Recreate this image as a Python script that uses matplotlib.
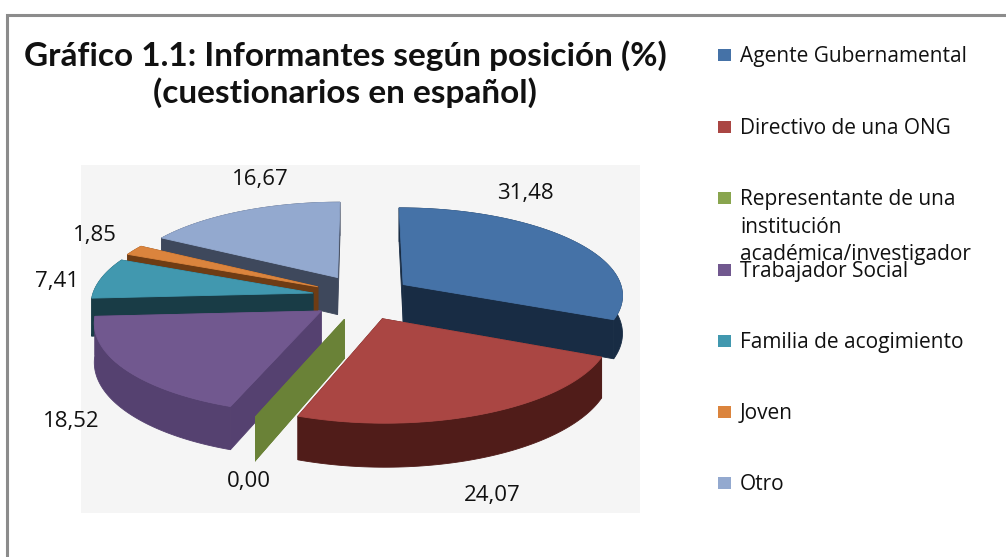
import numpy as np
import matplotlib
matplotlib.use("Agg")
import matplotlib.pyplot as plt
from matplotlib.patches import Polygon, Rectangle

categories = [
    "Agente Gubernamental",
    "Directivo de una ONG",
    "Representante de una\ninstitución\nacadémica/investigador",
    "Trabajador Social",
    "Familia de acogimiento",
    "Joven",
    "Otro",
]
values = [31.48, 24.07, 0.00, 18.52, 7.41, 1.85, 16.67]
value_labels = ["31,48", "24,07", "0,00", "18,52", "7,41", "1,85", "16,67"]

top_colors = ["#4572a7", "#aa4643", "#89a54e", "#71588f", "#4198af", "#db843d", "#93a9cf"]
side_colors = ["#182c44", "#501c19", "#6a8237", "#554170", "#193c46", "#6e3c14", "#3e485c"]

# pie geometry, in picture pixels
CX, CY = 362, 297
RADIUS = 221
EXPLODE_U, EXPLODE_V = 50, 58
TILT = 0.397
DEPTH = 2000
HEIGHT = 38


def project(u, v, h=0.0):
    # simple perspective, v points at the viewer
    s = DEPTH / (DEPTH - v)
    return CX + s * u, CY + s * (TILT * v + h)


def draw_slice(ax, start, end, top, side):
    mid = (start + end) / 2
    off_u = EXPLODE_U * np.sin(mid)
    off_v = -EXPLODE_V * np.cos(mid)
    angles = np.linspace(start, end, 80)
    us = off_u + RADIUS * np.sin(angles)
    vs = off_v - RADIUS * np.cos(angles)

    rim_top = [project(u, v) for u, v in zip(us, vs)]
    rim_low = [project(u, v, HEIGHT) for u, v in zip(us, vs)]
    apex_top = project(off_u, off_v)
    apex_low = project(off_u, off_v, HEIGHT)

    kw = dict(closed=True, linewidth=0.6)
    ax.add_patch(Polygon([apex_top, rim_top[0], rim_low[0], apex_low], fc=side, ec=side, **kw))
    ax.add_patch(Polygon([apex_top, rim_top[-1], rim_low[-1], apex_low], fc=side, ec=side, **kw))
    ax.add_patch(Polygon(rim_top + rim_low[::-1], fc=side, ec=side, **kw))
    if end > start:
        ax.add_patch(Polygon([apex_top] + rim_top, fc=top, ec=top, **kw))


fig = plt.figure(figsize=(10.06, 5.57), dpi=100)
ax = fig.add_axes([0, 0, 1, 1])
ax.set_xlim(0, 1006)
ax.set_ylim(557, 0)
ax.axis("off")

# frame of the chart
ax.plot([7, 7, 1006], [557, 15, 15], color="#8c8c8c", lw=2.2, solid_joinstyle="miter")

# plot area
ax.add_patch(Rectangle((81, 165), 559, 348, fc="#f5f5f5", ec="none"))

# slices, back to front
edges = np.cumsum([0] + values) / sum(values) * 2 * np.pi
order = sorted(range(len(values)), key=lambda i: -np.cos((edges[i] + edges[i + 1]) / 2))
for i in order:
    draw_slice(ax, edges[i], edges[i + 1], top_colors[i], side_colors[i])

label_x = [525, 492, 249, 71, 57, 95, 260]
label_y = [194, 496, 482, 422, 282, 235, 179]
for x, y, txt in zip(label_x, label_y, value_labels):
    ax.text(x, y, txt, fontsize=16, family="Open Sans", ha="center", va="center", color="#111111")

ax.text(345, 56, "Gráfico 1.1: Informantes según posición (%)", fontsize=24, family="Lato",
        weight="bold", ha="center", va="center", color="#111111")
ax.text(345, 93, "(cuestionarios en español)", fontsize=24, family="Lato",
        weight="bold", ha="center", va="center", color="#111111")

# legend
legend_y = [55, 127, 198, 270, 341, 412, 483]
for y, name, color in zip(legend_y, categories, top_colors):
    ax.add_patch(Rectangle((718, y - 6), 13, 12, fc=color, ec="none"))
    ax.text(740, y - 9, name, fontsize=15, family="Open Sans", ha="left", va="top",
            color="#111111", linespacing=1.42)

fig.savefig("out.png", dpi=100)
